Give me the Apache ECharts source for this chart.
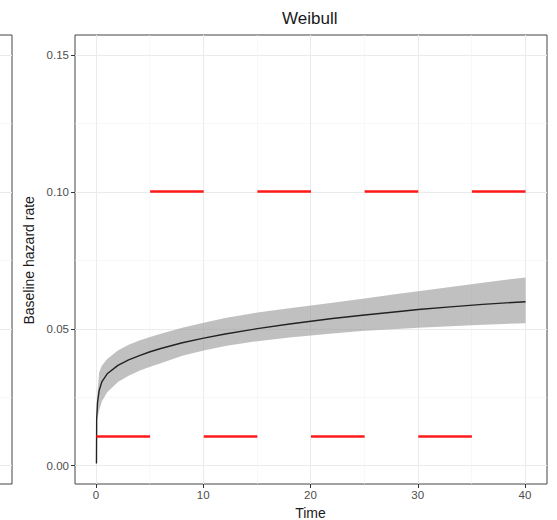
<!DOCTYPE html>
<html>
<head>
<meta charset="utf-8">
<script src="https://cdn.jsdelivr.net/npm/echarts@6/dist/echarts.min.js"></script>
<style>html,body{margin:0;padding:0;background:#fff;}#c{width:557px;height:520px;}</style>
</head>
<body>
<div id="c"></div>
<script>
// ---- data ----
var titleText = 'Weibull';
var xName = 'Time';
var yName = 'Baseline hazard rate';
var xTicks = [0, 10, 20, 30, 40];
var yTicks = [0.00, 0.05, 0.10, 0.15];

// fitted Weibull baseline hazard (black curve)
var hazTime = [0, 0.02, 0.1, 0.25, 0.5, 1, 2, 3, 4, 5, 6, 8, 10, 12, 15, 18, 20, 22, 25, 28, 30, 33, 36, 40];
var hazard  = [0, 0.0165, 0.0225, 0.0268, 0.0300, 0.0330, 0.0361, 0.0381, 0.0397, 0.0411, 0.0423, 0.0444, 0.0461, 0.0476, 0.0496, 0.0513, 0.0523, 0.0533, 0.0546, 0.0558, 0.0566, 0.0576, 0.0585, 0.0595];

// confidence band (grey ribbon)
var bandTime  = [0.05, 0.1, 0.25, 0.5, 1, 2, 3, 4, 5, 6, 8, 10, 12, 15, 18, 20, 22, 25, 28, 30, 33, 36, 40];
var bandLower = [0.0155, 0.0170, 0.0195, 0.0228, 0.0262, 0.0300, 0.0323, 0.0341, 0.0356, 0.0369, 0.0396, 0.0416, 0.0432, 0.0450, 0.0463, 0.0471, 0.0478, 0.0488, 0.0495, 0.0499, 0.0505, 0.0510, 0.0516];
var bandUpper = [0.0205, 0.0265, 0.0335, 0.0360, 0.0384, 0.0416, 0.0437, 0.0452, 0.0465, 0.0477, 0.0499, 0.0518, 0.0535, 0.0555, 0.0571, 0.0581, 0.0591, 0.0607, 0.0623, 0.0633, 0.0649, 0.0665, 0.0684];

// true piecewise-constant hazard (red segments)
var segStart = [0, 5, 10, 15, 20, 25, 30, 35];
var segEnd   = [5, 10, 15, 20, 25, 30, 35, 40];
var segLevel = [0.01, 0.10, 0.01, 0.10, 0.01, 0.10, 0.01, 0.10];

// ---- chart ----
var FONT = 'Liberation Sans, Arial, sans-serif';
var chart = echarts.init(document.getElementById('c'), null, {renderer: 'svg'});

var curveData = hazTime.map(function (t, i) { return [t, hazard[i]]; });
var segData = segStart.map(function (s, i) {
  return {coords: [[s, segLevel[i]], [segEnd[i], segLevel[i]]]};
});

var xFull = [-2, 42];
var yFull = [-0.0075, 0.1575];

var gridLine = {show: true, lineStyle: {color: '#ebebeb', width: 1}};
var minorLine = {show: true, lineStyle: {color: '#f4f4f4', width: 0.6}};

function g(o) { o.outerBoundsMode = 'none'; o.containLabel = false; return o; }
function hidden(gi, range) {
  return {gridIndex: gi, type: 'value', min: range[0], max: range[1], show: false, axisLine: {onZero: false}};
}

var option = {
  backgroundColor: '#fff',
  animation: false,
  title: {
    text: titleText, left: 277, top: 5,
    textStyle: {fontFamily: FONT, fontSize: 17, fontWeight: 'normal', color: '#1a1a1a'}
  },
  grid: [
    g({left: 75, right: 10, top: 55, bottom: 54.3, show: false}),
    g({left: 96, right: 32, top: 35, bottom: 36, show: false}),
    g({left: 75, right: 10, top: 35, bottom: 36, show: true, borderColor: '#444', borderWidth: 1, backgroundColor: 'transparent'}),
    g({left: -200, right: 545, top: 55, bottom: 54.3, show: false}),
    g({left: -200, right: 545, top: 35, bottom: 36, show: true, borderColor: '#444', borderWidth: 1, backgroundColor: 'transparent'})
  ],
  xAxis: [
    hidden(0, xFull),
    {gridIndex: 1, type: 'value', min: xTicks[0], max: xTicks[xTicks.length - 1], interval: xTicks[1] - xTicks[0],
     position: 'bottom',
     axisLine: {show: false, onZero: false},
     axisTick: {show: true, length: 4, lineStyle: {color: '#333'}},
     axisLabel: {margin: 5, color: '#4d4d4d', fontSize: 11.5, fontFamily: FONT},
     splitLine: gridLine,
     minorTick: {show: false, splitNumber: 2},
     minorSplitLine: minorLine,
     name: xName, nameLocation: 'middle', nameGap: 22,
     nameTextStyle: {fontFamily: FONT, fontSize: 14, color: '#1a1a1a'}},
    hidden(2, xFull),
    hidden(3, [0, 1]),
    hidden(4, [0, 1])
  ],
  yAxis: [
    {gridIndex: 0, type: 'value', min: yTicks[0], max: yTicks[yTicks.length - 1], interval: yTicks[1] - yTicks[0],
     position: 'left',
     axisLine: {show: false, onZero: false},
     axisTick: {show: true, length: 4, lineStyle: {color: '#333'}},
     axisLabel: {margin: 6, color: '#4d4d4d', fontSize: 11.5, fontFamily: FONT,
                 formatter: function (v) { return v.toFixed(2); }},
     splitLine: gridLine,
     minorTick: {show: false, splitNumber: 2},
     minorSplitLine: minorLine,
     name: yName, nameLocation: 'middle', nameGap: 36, nameRotate: 90,
     nameTextStyle: {fontFamily: FONT, fontSize: 14, color: '#1a1a1a'}},
    hidden(1, yFull),
    hidden(2, yFull),
    {gridIndex: 3, type: 'value', min: yTicks[0], max: yTicks[yTicks.length - 1], interval: yTicks[1] - yTicks[0],
     axisLine: {show: false, onZero: false}, axisTick: {show: false}, axisLabel: {show: false},
     splitLine: gridLine,
     minorTick: {show: false, splitNumber: 2},
     minorSplitLine: minorLine},
    hidden(4, yFull)
  ],
  series: [
    {
      type: 'custom', xAxisIndex: 2, yAxisIndex: 2, silent: true, z: 2,
      data: [[0, 0]],
      renderItem: function (params, api) {
        var pts = [];
        for (var i = 0; i < bandTime.length; i++) pts.push(api.coord([bandTime[i], bandUpper[i]]));
        for (var j = bandTime.length - 1; j >= 0; j--) pts.push(api.coord([bandTime[j], bandLower[j]]));
        return {type: 'polygon', shape: {points: pts, smooth: 0}, style: {fill: 'rgba(150,150,150,0.6)', stroke: null}};
      }
    },
    {
      type: 'line', xAxisIndex: 2, yAxisIndex: 2, data: curveData, z: 3,
      showSymbol: false, smooth: false,
      lineStyle: {color: '#222', width: 1.4}
    },
    {
      type: 'lines', coordinateSystem: 'cartesian2d', xAxisIndex: 2, yAxisIndex: 2, z: 4,
      data: segData,
      lineStyle: {color: '#ff1a1a', width: 2.6, opacity: 1}
    }
  ]
};
chart.setOption(option);
</script>
</body>
</html>
